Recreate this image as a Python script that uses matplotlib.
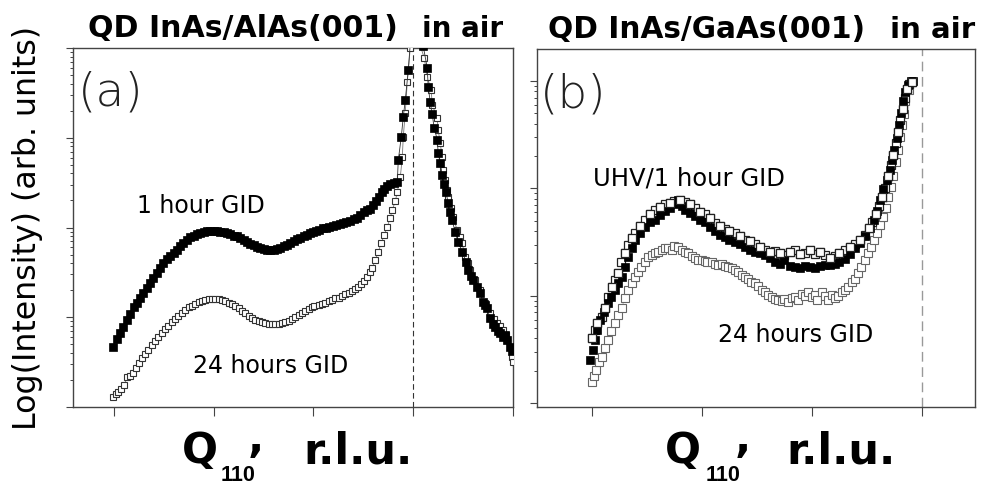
import numpy as np
import matplotlib
matplotlib.use("Agg")
import matplotlib.pyplot as plt
from matplotlib.ticker import LogLocator, NullFormatter, FixedLocator

plt.rcParams['font.family'] = ['DejaVu Sans']

W, H = 981, 493

# ---------------- Panel (a): QD InAs/AlAs(001) ----------------
# x in tick units (0..4), y as log10(intensity)
a_1h_x = [-0.01, 0.03, 0.06, 0.09, 0.13, 0.16, 0.20, 0.23, 0.26, 0.29, 0.33, 0.36, 0.39, 0.43,
          0.46, 0.49, 0.53, 0.56, 0.60, 0.63, 0.66, 0.69, 0.73, 0.76, 0.80, 0.83, 0.86, 0.90,
          0.93, 0.96, 1.00, 1.03, 1.06, 1.10, 1.13, 1.16, 1.20, 1.23, 1.26, 1.30, 1.33, 1.36,
          1.40, 1.43, 1.46, 1.50, 1.53, 1.56, 1.60, 1.63, 1.66, 1.70, 1.73, 1.76, 1.80, 1.83,
          1.86, 1.90, 1.93, 1.96, 2.00, 2.03, 2.06, 2.10, 2.13, 2.16, 2.20, 2.23, 2.27, 2.30,
          2.33, 2.37, 2.41, 2.44, 2.47, 2.51, 2.54, 2.57, 2.60, 2.63, 2.66, 2.69, 2.71, 2.74,
          2.77, 2.81, 2.84, 2.85, 2.88, 2.90, 2.92, 2.95, 2.98,
          3.10, 3.14, 3.15, 3.17, 3.19, 3.21, 3.24, 3.25, 3.27, 3.29, 3.31, 3.33, 3.35, 3.37,
          3.39, 3.42, 3.45, 3.49, 3.53, 3.55, 3.58, 3.60, 3.64, 3.67, 3.70, 3.72, 3.74, 3.77,
          3.80, 3.82, 3.85, 3.87, 3.90, 3.92, 3.94, 3.97, 3.99]
a_1h_log = [0.67, 0.76, 0.83, 0.89, 0.97, 1.04, 1.11, 1.16, 1.21, 1.27, 1.33, 1.38, 1.44, 1.49,
            1.55, 1.60, 1.65, 1.68, 1.72, 1.75, 1.79, 1.83, 1.86, 1.89, 1.91, 1.93, 1.94, 1.95,
            1.96, 1.96, 1.96, 1.96, 1.95, 1.95, 1.94, 1.93, 1.91, 1.90, 1.88, 1.86, 1.84, 1.82,
            1.80, 1.78, 1.77, 1.76, 1.75, 1.75, 1.75, 1.76, 1.77, 1.79, 1.81, 1.83, 1.85, 1.87,
            1.88, 1.90, 1.92, 1.94, 1.95, 1.96, 1.97, 1.99, 2.00, 2.01, 2.02, 2.03, 2.04, 2.05,
            2.06, 2.07, 2.09, 2.11, 2.14, 2.17, 2.19, 2.21, 2.25, 2.29, 2.34, 2.39, 2.43, 2.46,
            2.48, 2.50, 2.51, 2.75, 3.01, 3.23, 3.42, 3.75, 4.20,
            4.02, 3.78, 3.57, 3.40, 3.26, 3.11, 2.98, 2.83, 2.72, 2.59, 2.49, 2.39, 2.27, 2.17,
            2.08, 1.95, 1.84, 1.73, 1.62, 1.53, 1.46, 1.42, 1.34, 1.27, 1.17, 1.14, 1.10, 0.99,
            0.93, 0.89, 0.85, 0.83, 0.78, 0.80, 0.75, 0.67, 0.62]

a_24h_x = [-0.01, 0.02, 0.04, 0.07, 0.10, 0.13, 0.16, 0.19, 0.22, 0.25, 0.28, 0.31, 0.34, 0.38,
           0.41, 0.44, 0.48, 0.51, 0.54, 0.58, 0.61, 0.64, 0.68, 0.71, 0.75, 0.78, 0.81, 0.85,
           0.88, 0.91, 0.95, 0.98, 1.01, 1.05, 1.08, 1.11, 1.15, 1.18, 1.21, 1.25, 1.28, 1.31,
           1.35, 1.38, 1.41, 1.45, 1.48, 1.51, 1.55, 1.58, 1.61, 1.65, 1.68, 1.71, 1.75, 1.78,
           1.81, 1.85, 1.88, 1.91, 1.95, 1.98, 2.01, 2.06, 2.09, 2.12, 2.16, 2.19, 2.22, 2.26,
           2.29, 2.32, 2.36, 2.39, 2.42, 2.45, 2.48, 2.51, 2.54, 2.57, 2.59, 2.62, 2.65, 2.68,
           2.71, 2.74, 2.77, 2.79, 2.82, 2.84, 2.87, 2.89, 2.90, 2.92, 2.94, 2.97, 2.99,
           3.11, 3.14, 3.18, 3.19, 3.24, 3.25, 3.27, 3.29, 3.30, 3.32, 3.34, 3.35, 3.38, 3.40,
           3.44, 3.47, 3.49, 3.52, 3.55, 3.57, 3.62, 3.67, 3.72, 3.77, 3.81, 3.84, 3.87, 3.90,
           3.93, 3.94, 3.99, 4.00]
a_24h_log = [0.11, 0.15, 0.17, 0.20, 0.24, 0.33, 0.35, 0.38, 0.44, 0.49, 0.55, 0.59, 0.63, 0.69,
             0.74, 0.78, 0.82, 0.87, 0.90, 0.95, 0.98, 1.01, 1.05, 1.08, 1.11, 1.13, 1.15, 1.17,
             1.18, 1.19, 1.20, 1.20, 1.20, 1.20, 1.19, 1.18, 1.16, 1.15, 1.13, 1.10, 1.07, 1.05,
             1.01, 0.99, 0.97, 0.96, 0.95, 0.94, 0.93, 0.93, 0.93, 0.93, 0.94, 0.95, 0.96, 0.98,
             1.00, 1.03, 1.05, 1.07, 1.09, 1.11, 1.13, 1.14, 1.15, 1.16, 1.18, 1.19, 1.21, 1.22,
             1.24, 1.26, 1.27, 1.29, 1.31, 1.34, 1.37, 1.40, 1.45, 1.50, 1.55, 1.64, 1.73, 1.83,
             1.92, 2.01, 2.11, 2.20, 2.29, 2.40, 2.56, 2.78, 3.01, 3.28, 3.62, 4.00, 4.30,
             3.89, 3.68, 3.53, 3.37, 3.22, 3.09, 2.94, 2.79, 2.64, 2.53, 2.42, 2.34, 2.22, 2.12,
             1.97, 1.89, 1.83, 1.67, 1.60, 1.53, 1.42, 1.30, 1.16, 1.05, 0.98, 0.94, 0.90, 0.86,
             0.80, 0.75, 0.56, 0.50]

# ---------------- Panel (b): QD InAs/GaAs(001) ----------------
b_1h_x = [-0.02, 0.01, 0.03, 0.05, 0.07, 0.11, 0.15, 0.17, 0.21, 0.24, 0.27, 0.30, 0.33, 0.36,
          0.39, 0.44, 0.48, 0.53, 0.57, 0.62, 0.66, 0.71, 0.75, 0.78, 0.82, 0.85, 0.89, 0.94,
          0.98, 1.03, 1.07, 1.12, 1.16, 1.21, 1.25, 1.30, 1.35, 1.39, 1.44, 1.48, 1.53, 1.57,
          1.62, 1.66, 1.71, 1.75, 1.80, 1.85, 1.89, 1.94, 1.98, 2.03, 2.07, 2.12, 2.16, 2.21,
          2.25, 2.30, 2.35, 2.39, 2.44, 2.48, 2.53, 2.56, 2.59, 2.62, 2.65, 2.68, 2.71, 2.73,
          2.75, 2.77, 2.79, 2.81, 2.83, 2.85, 2.87, 2.90, 2.92]
b_1h_log = [0.40, 0.49, 0.59, 0.68, 0.77, 0.85, 0.93, 0.99, 1.05, 1.12, 1.17, 1.27, 1.36, 1.44,
            1.52, 1.58, 1.64, 1.69, 1.71, 1.75, 1.79, 1.82, 1.85, 1.89, 1.84, 1.80, 1.77, 1.74,
            1.71, 1.69, 1.64, 1.60, 1.57, 1.55, 1.52, 1.50, 1.48, 1.45, 1.43, 1.41, 1.40, 1.38,
            1.35, 1.31, 1.30, 1.33, 1.28, 1.27, 1.26, 1.28, 1.27, 1.26, 1.28, 1.29, 1.29, 1.30,
            1.31, 1.34, 1.39, 1.44, 1.49, 1.56, 1.63, 1.71, 1.79, 1.89, 1.99, 2.08, 2.17, 2.26,
            2.36, 2.47, 2.59, 2.70, 2.81, 2.90, 2.96, 3.00, 3.00]

b_uhv_x = [0.00, 0.03, 0.05, 0.09, 0.12, 0.15, 0.18, 0.21, 0.24, 0.26, 0.30, 0.33, 0.36, 0.39,
           0.44, 0.48, 0.53, 0.57, 0.62, 0.66, 0.71, 0.75, 0.80, 0.85, 0.89, 0.94, 0.98, 1.03,
           1.07, 1.12, 1.16, 1.21, 1.25, 1.30, 1.35, 1.39, 1.44, 1.48, 1.53, 1.57, 1.62, 1.66,
           1.71, 1.75, 1.80, 1.85, 1.89, 1.94, 1.98, 2.03, 2.07, 2.12, 2.16, 2.21, 2.25, 2.30,
           2.35, 2.39, 2.44, 2.48, 2.52, 2.55, 2.58, 2.61, 2.64, 2.66, 2.69, 2.72, 2.74, 2.76,
           2.78, 2.80, 2.83, 2.85, 2.86, 2.88, 2.91]
b_uhv_log = [0.61, 0.68, 0.75, 0.80, 0.89, 0.99, 1.08, 1.15, 1.21, 1.31, 1.40, 1.47, 1.54, 1.58,
             1.65, 1.71, 1.76, 1.80, 1.83, 1.85, 1.86, 1.88, 1.89, 1.87, 1.85, 1.82, 1.78, 1.76,
             1.72, 1.68, 1.65, 1.62, 1.60, 1.58, 1.56, 1.52, 1.51, 1.48, 1.45, 1.43, 1.41, 1.42,
             1.40, 1.38, 1.41, 1.43, 1.39, 1.40, 1.43, 1.39, 1.41, 1.38, 1.35, 1.37, 1.40, 1.43,
             1.45, 1.48, 1.52, 1.57, 1.63, 1.69, 1.76, 1.84, 1.92, 2.00, 2.12, 2.22, 2.31, 2.42,
             2.53, 2.64, 2.74, 2.84, 2.93, 2.97, 2.99]

b_24h_x = [0.00, 0.02, 0.04, 0.06, 0.09, 0.12, 0.15, 0.17, 0.21, 0.24, 0.27, 0.30, 0.33, 0.36,
           0.39, 0.42, 0.45, 0.48, 0.51, 0.55, 0.57, 0.60, 0.64, 0.66, 0.69, 0.73, 0.75, 0.78,
           0.82, 0.85, 0.87, 0.91, 0.94, 0.96, 1.00, 1.03, 1.05, 1.09, 1.12, 1.15, 1.18, 1.21,
           1.24, 1.27, 1.30, 1.33, 1.36, 1.39, 1.42, 1.45, 1.48, 1.51, 1.55, 1.57, 1.60, 1.64,
           1.66, 1.69, 1.73, 1.75, 1.78, 1.82, 1.85, 1.87, 1.91, 1.94, 1.96, 2.00, 2.03, 2.05,
           2.09, 2.12, 2.15, 2.18, 2.21, 2.24, 2.27, 2.30, 2.33, 2.36, 2.39, 2.42, 2.45, 2.48,
           2.51, 2.54, 2.56, 2.59, 2.62, 2.65, 2.67, 2.69, 2.72, 2.74, 2.76, 2.78, 2.80, 2.82,
           2.84, 2.85, 2.88]
b_24h_log = [0.20, 0.25, 0.31, 0.38, 0.43, 0.51, 0.59, 0.67, 0.75, 0.82, 0.89, 0.98, 1.05, 1.12,
             1.17, 1.22, 1.27, 1.31, 1.36, 1.38, 1.40, 1.41, 1.43, 1.44, 1.44, 1.43, 1.46, 1.45,
             1.43, 1.41, 1.40, 1.37, 1.35, 1.33, 1.33, 1.32, 1.31, 1.31, 1.30, 1.29, 1.30, 1.28,
             1.27, 1.26, 1.24, 1.22, 1.19, 1.17, 1.16, 1.13, 1.12, 1.09, 1.05, 1.03, 1.01, 0.99,
             0.97, 0.96, 0.95, 0.97, 0.94, 0.98, 0.99, 0.96, 1.02, 1.00, 1.03, 0.99, 1.01, 0.96,
             1.03, 1.00, 0.96, 1.01, 0.98, 1.00, 1.03, 1.05, 1.08, 1.13, 1.16, 1.21, 1.27, 1.33,
             1.40, 1.45, 1.52, 1.58, 1.66, 1.73, 1.82, 1.92, 2.01, 2.12, 2.25, 2.36, 2.48, 2.59,
             2.69, 2.81, 2.92]

x_ticks_a = [0, 1, 2, 3, 4]
x_ticks_b = [0, 1, 2, 3]

titles_a = ["QD InAs/AlAs(001)", "in air"]
titles_b = ["QD InAs/GaAs(001)", "in air"]


def P(px, py):
    return px / W, 1 - py / H


fig = plt.figure(figsize=(W / 100, H / 100), dpi=100)
fig.patch.set_facecolor('white')

ax_a = fig.add_axes([73 / W, 1 - 407 / H, 440 / W, 359 / H])
ax_b = fig.add_axes([537 / W, 1 - 407 / H, 438 / W, 358 / H])

spine_col = '#444444'


def style(ax, xlim, ylim, xticks):
    ax.set_yscale('log')
    ax.set_xlim(*xlim)
    ax.set_ylim(*ylim)
    ax.xaxis.set_major_locator(FixedLocator(xticks))
    ax.yaxis.set_major_locator(LogLocator(base=10, numticks=20))
    ax.yaxis.set_minor_locator(LogLocator(base=10, subs=np.arange(2, 10), numticks=100))
    ax.xaxis.set_major_formatter(NullFormatter())
    ax.yaxis.set_major_formatter(NullFormatter())
    ax.yaxis.set_minor_formatter(NullFormatter())
    ax.tick_params(axis='x', which='major', direction='out', length=6.5, width=0.8,
                   color=spine_col, top=False)
    ax.tick_params(axis='y', which='major', direction='out', length=5, width=0.8,
                   color=spine_col, right=False)
    ax.tick_params(axis='y', which='minor', direction='out', length=2.2, width=0.7,
                   color=spine_col, right=False)
    for s in ax.spines.values():
        s.set_color(spine_col)
        s.set_linewidth(1.0)


style(ax_a, (-0.411, 4.0), (1.0, 1e4), x_ticks_a)
style(ax_b, (-0.5, 3.482), (10 ** -0.037, 10 ** 3.299), x_ticks_b)

# dashed reference lines
ax_a.axvline(3.0, color='#333333', lw=0.8, dashes=(5, 3), zorder=1)
ax_b.axvline(3.0, color='#999999', lw=1.0, dashes=(7, 4), zorder=1)

# panel (a) data
ax_a.plot(a_24h_x, 10 ** np.array(a_24h_log), '-', color='#777777', lw=0.6, zorder=2)
ax_a.plot(a_24h_x, 10 ** np.array(a_24h_log), 's', ms=5.0, mfc='white', mec='#333333',
          mew=0.8, zorder=3)
ax_a.plot(a_1h_x, 10 ** np.array(a_1h_log), '-', color='#333333', lw=0.6, zorder=4)
ax_a.plot(a_1h_x, 10 ** np.array(a_1h_log), 's', ms=5.6, mfc='black', mec='black',
          mew=0.5, zorder=5)

# panel (b) data
ax_b.plot(b_24h_x, 10 ** np.array(b_24h_log), ':', color='#999999', lw=0.6, zorder=2)
ax_b.plot(b_24h_x, 10 ** np.array(b_24h_log), 's', ms=6.0, mfc='white', mec='#666666',
          mew=0.8, zorder=3)
ax_b.plot(b_uhv_x, 10 ** np.array(b_uhv_log), 's', ms=6.0, mfc='white', mec='#222222',
          mew=0.9, zorder=4)
ax_b.plot(b_1h_x, 10 ** np.array(b_1h_log), 's', ms=6.2, mfc='black', mec='black',
          mew=0.5, zorder=5)
# a few open squares sit on top of the filled ones
ax_b.plot(b_uhv_x[::2], 10 ** np.array(b_uhv_log[::2]), 's', ms=6.0, mfc='white',
          mec='#222222', mew=0.9, zorder=6)

# titles
fig.text(*P(88, 37), titles_a[0], fontsize=21.6, fontweight='bold', ha='left', va='baseline')
fig.text(*P(422, 37), titles_a[1], fontsize=20, fontweight='bold', ha='left', va='baseline')
fig.text(*P(548, 38), titles_b[0], fontsize=21.3, fontweight='bold', ha='left', va='baseline')
fig.text(*P(890, 38), titles_b[1], fontsize=21, fontweight='bold', ha='left', va='baseline')

# y label
fig.text(*P(28, 228), "Log(Intensity) (arb. units)", fontsize=22.8, rotation=90,
         ha='center', va='center')


# x labels (Q_110, r.l.u.)
def xlabel(x0, xsub, xcom, xr):
    fig.text(*P(x0, 463), "Q", fontsize=30.5, fontweight='bold', ha='left', va='baseline')
    fig.text(*P(xsub, 481), "110", fontsize=15.5, fontweight='bold', ha='left', va='baseline',
             family='Liberation Sans')
    fig.text(*P(xcom, 452), ",", fontsize=30.5, fontweight='bold', ha='left', va='baseline')
    fig.text(*P(xr, 463), "r.l.u.", fontsize=31, fontweight='bold', ha='left', va='baseline')


xlabel(182, 221, 248, 303)
xlabel(665, 706, 735, 786)

# panel letters
fig.text(*P(78, 105), "(a)", fontsize=34, fontweight='light', color='#222222',
         ha='left', va='baseline')
fig.text(*P(540, 107), "(b)", fontsize=34, fontweight='light', color='#222222',
         ha='left', va='baseline')

# curve annotations
fig.text(*P(137, 213), "1 hour GID", fontsize=17, ha='left', va='baseline')
fig.text(*P(193, 373), "24 hours GID", fontsize=17, ha='left', va='baseline')
fig.text(*P(593, 185), "UHV/1 hour GID", fontsize=17.5, ha='left', va='baseline')
fig.text(*P(718, 342), "24 hours GID", fontsize=17, ha='left', va='baseline')

fig.savefig('out.png', dpi=100)
